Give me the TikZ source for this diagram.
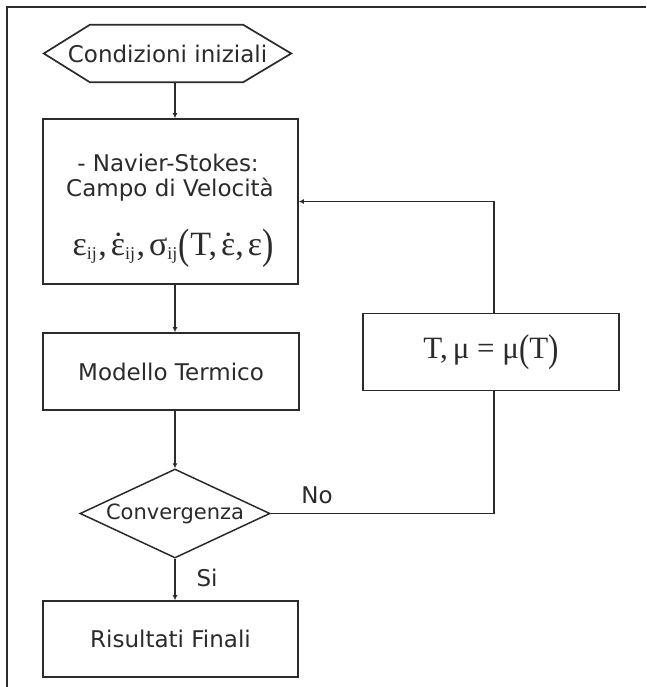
\documentclass[tikz,border=0pt]{standalone}
\usepackage{fontspec}
\setmainfont{DejaVu Sans}
\newfontfamily\serif{Liberation Serif}
\usetikzlibrary{shapes.geometric,arrows.meta}
\definecolor{ink}{HTML}{2B2B2B}
\newcommand{\subij}{\textsubscript{\fontsize{18}{18}\selectfont ij}\hspace{1pt}}
\newcommand{\edot}{\rlap{\hspace{0.05em}˙}ε}
\newcommand{\tallp}[1]{\raisebox{-0.08em}{\scalebox{1}[1.25]{#1}}}
\newcommand{\csp}{,\hspace{4pt}}
\begin{document}
\begin{tikzpicture}[x=1pt,y=-1pt,
  box/.style={draw=ink,line width=1.7pt,rectangle,inner sep=0pt},
  conn/.style={draw=ink,line width=1.4pt},
  arr/.style={conn,-{Latex[length=5pt,width=5pt]}},
  lab/.style={text=ink,font=\fontsize{23}{27}\selectfont,inner sep=0pt},
  mth/.style={text=ink,inner sep=0pt}]
\useasboundingbox (0,0) rectangle (646,687);
\fill[white] (0,0) rectangle (646,687);
% frame
\coordinate (frameTL) at (7,7);
\draw[ink,line width=1.5pt] (7,687) -- (frameTL) -- (646,7);
% column coordinates
\coordinate (col) at (175,0);
\coordinate (loopx) at (494,0);
% start hexagon
\node[lab,minimum width=247pt,minimum height=57pt] (start) at (167.5,53.5) {Condizioni iniziali};
\draw[ink,line width=1.7pt] ([xshift=46pt]start.north west) -- ([xshift=-48pt]start.north east)
  -- (start.east) -- ([xshift=-48pt]start.south east) -- ([xshift=46pt]start.south west)
  -- (start.west) -- cycle;
% velocity box
\node[box,minimum width=255pt,minimum height=165pt] (vel) at (170.5,201.5) {};
\node[lab] (vl1) at (168,163) {- Navier-Stokes:};
\node[lab] (vl2) at (170,190) {Campo di Velocità};
\node[mth,font=\serif\fontsize{34}{37}\selectfont] (vl3) at (173,248)
  {ε\subij\csp\edot\subij\csp σ\subij\tallp{(}T\csp\edot\csp ε\tallp{)}};
% thermal
\node[box,lab,minimum width=256pt,minimum height=77pt] (term) at (171,371.5) {Modello Termico};
% mu box
\node[box,mth,minimum width=256pt,minimum height=77pt,font=\serif\fontsize{31}{34}\selectfont] (mu) at (491,352) {T,\hspace{5pt}μ = μ\tallp{(}T\tallp{)}};
% decision
\node[diamond,draw=ink,line width=1.5pt,aspect=2.13,minimum width=190pt,minimum height=89pt,
  inner sep=0pt,text=ink,font=\fontsize{21}{24}\selectfont] (conv) at (175,513.5) {Convergenza};
% results
\node[box,lab,minimum width=255pt,minimum height=76pt] (ris) at (170.5,639) {Risultati Finali};
% connectors
\draw[arr] (start.south -| col) -- (vel.north -| col);
\draw[arr] (vel.south -| col) -- (term.north -| col);
\draw[arr] (term.south -| col) -- (conv.north);
\draw[arr] (conv.south) -- (ris.north -| conv.south);
\draw[conn] (conv.east) -- (conv.east -| loopx) -- (mu.south -| loopx);
\draw[arr] (mu.north -| loopx) |- (vel.east);
% labels
\node[lab] (no) at (317,495) {No};
\node[lab] (si) at (207,578) {Si};
\end{tikzpicture}
\end{document}
